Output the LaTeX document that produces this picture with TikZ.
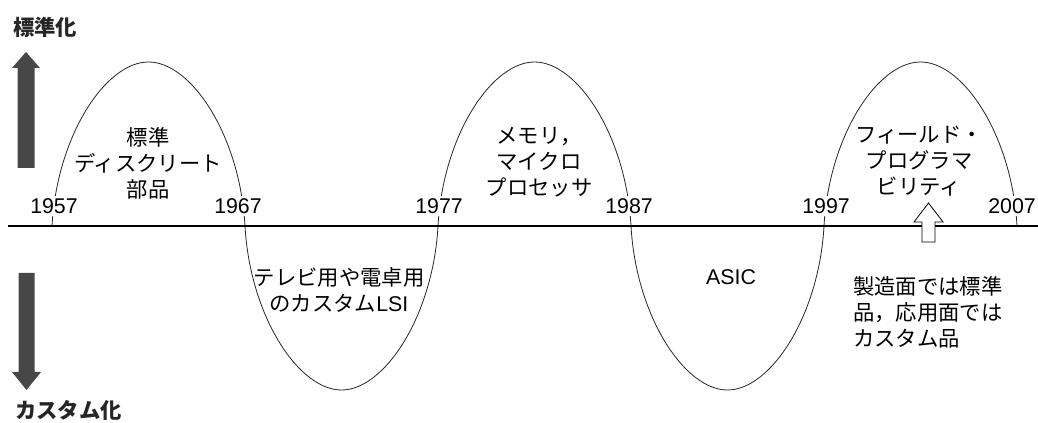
\documentclass[tikz,border=0pt]{standalone}
\usepackage{fontspec}
\setmainfont{Liberation Sans}
\newfontfamily\jp{Noto Sans CJK JP}
\begin{document}
\begin{tikzpicture}[x=0.75pt,y=-0.75pt,
  txt/.style={font=\fontsize{16}{19.5}\selectfont\jp, align=center, inner sep=0pt},
  corner/.style={font=\fontsize{16}{19.5}\selectfont\jp\bfseries, inner sep=0pt, text=black!85},
  year/.style={font=\fontsize{16}{19}\selectfont, fill=white, inner sep=2pt},
  wave/.style={line width=0.6pt, draw=black!85},
  axisline/.style={line width=1.1pt},
  bigarrow/.style={fill=black!72, draw=none},
  hollowarrow/.style={fill=white, draw=black, line width=0.6pt}]
\useasboundingbox (0,0) rectangle (1038,423);

% wave
\draw[wave] (52,226)
  .. controls (57,136) and (105.5,62) .. (148.5,62)
  .. controls (191.5,62) and (240,136) .. (245,226)
  .. controls (250,316) and (298.5,390) .. (341.5,390)
  .. controls (384.5,390) and (433,316) .. (438,226)
  .. controls (443,136) and (491.5,62) .. (534.5,62)
  .. controls (577.5,62) and (626,136) .. (631,226)
  .. controls (636,316) and (684.5,390) .. (727.5,390)
  .. controls (770.5,390) and (819,316) .. (824,226)
  .. controls (829,136) and (877.5,62) .. (920.5,62)
  .. controls (963.5,62) and (1012,136) .. (1017,226);

% axis
\coordinate (axL) at (8,226);
\coordinate (axR) at (1038,226);
\draw[axisline] (axL) -- (axR);

% year labels
\node[year] (y1957) at (54,206) {1957};
\node[year] (y1967) at (238,206) {1967};
\node[year] (y1977) at (439,206) {1977};
\node[year] (y1987) at (629,206) {1987};
\node[year] (y1997) at (826,206) {1997};
\node[year] (y2007) at (1012,206) {2007};

% side arrows
\fill[bigarrow] (26,52) -- (40,68) -- (34.5,68) -- (34.5,168) -- (17.5,168) -- (17.5,68) -- (12,68) -- cycle;
\fill[bigarrow] (26.5,390) -- (41,372) -- (34.5,372) -- (34.5,273) -- (18.5,273) -- (18.5,372) -- (12,372) -- cycle;

\node[corner, anchor=west] (std) at (13,27) {標準化};
\node[corner, anchor=west] (cust) at (15,410) {カスタム化};

% texts
\node[txt] (t1) at (148,163) {標準\\ディスクリート\\部品};
\node[txt] (t2) at (339,290) {テレビ用や電卓用\\のカスタム{\fontspec{Liberation Sans}LSI}};
\node[txt] (t3) at (539,162) {メモリ，\\マイクロ\\プロセッサ};
\node[font=\fontsize{16}{19}\selectfont, inner sep=0pt] (t4) at (731,277) {ASIC};
\node[txt] (t5) at (919,161) {フィールド・\\プログラマ\\ビリティ};
\node[txt, anchor=west, align=left] (t6) at (853,312) {製造面では標準\\品，応用面では\\カスタム品};

% hollow arrow
\draw[hollowarrow] (928.5,203) -- (943,222) -- (935,222) -- (935,242) -- (922,242) -- (922,222) -- (914,222) -- cycle;
\end{tikzpicture}
\end{document}
